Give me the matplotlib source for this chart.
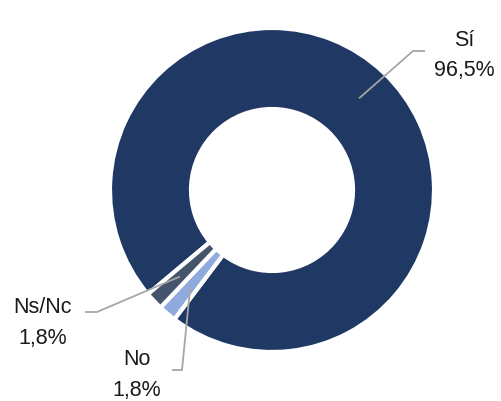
import numpy as np
import matplotlib
matplotlib.use("Agg")
import matplotlib.pyplot as plt

# === DATA ===
labels = ["Sí", "No", "Ns/Nc"]
values = [96.5, 1.8, 1.8]
pct_text = ["96,5%", "1,8%", "1,8%"]
colors = ["#203864", "#8FAADC", "#44546A"]

# === LAYOUT (pixel space, y up) ===
W, H = 501, 401
CX, CY = 272, H - 190
R = 162
START = 220

# text x, baseline of name / pct, elbow point, end of horizontal leg
label_pos = {
    "Sí": (464, H - 46, H - 76, (413, H - 51), (425, H - 51)),
    "Ns/Nc": (43, H - 313, H - 344, (97, H - 312), (85, H - 312)),
    "No": (137, H - 365, H - 396, (182, H - 370), (172, H - 370)),
}

plt.rcParams['font.family'] = ['Liberation Sans', 'DejaVu Sans']

fig = plt.figure(figsize=(W / 100, H / 100), dpi=100)
ax = fig.add_axes([0, 0, 1, 1])

wedges, _ = ax.pie(values, colors=colors, startangle=START, counterclock=False,
                   center=(CX, CY), radius=R, normalize=True,
                   wedgeprops=dict(width=R * 0.5, edgecolor="white", linewidth=3))

for w, lab, pct in zip(wedges, labels, pct_text):
    mid = np.deg2rad((w.theta1 + w.theta2) / 2)
    r_in = R * 0.78
    sx, sy = CX + r_in * np.cos(mid), CY + r_in * np.sin(mid)
    tx, y1, y2, elbow, leg = label_pos[lab]
    ax.plot([sx, elbow[0], leg[0]], [sy, elbow[1], leg[1]],
            color="#A6A6A6", lw=1.3, solid_capstyle="butt")
    ax.text(tx, y1, lab, ha="center", va="baseline", fontsize=15.5, color="#1a1a1a")
    ax.text(tx, y2, pct, ha="center", va="baseline", fontsize=15.5, color="#1a1a1a")

# pie() resets the limits, so set them afterwards
ax.set_xlim(0, W)
ax.set_ylim(0, H)
ax.set_aspect("equal")
ax.axis("off")

fig.savefig("out.png", dpi=100)
